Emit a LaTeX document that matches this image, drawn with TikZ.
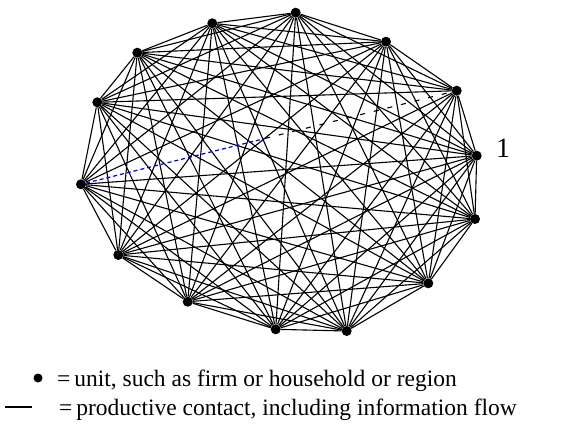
\documentclass[tikz,border=0pt]{standalone}
\usepackage{fontspec}
\setmainfont{Liberation Serif}
\usetikzlibrary{calc}
\tikzset{
  unit/.style={circle,fill=black,inner sep=0pt,minimum size=10pt},
  contact/.style={line width=1.1pt,black},
  flowblue/.style={line width=1.2pt,blue!85!black,dash pattern=on 4pt off 3pt},
  flowblack/.style={line width=1.1pt,black,dash pattern=on 5pt off 9pt},
  legendtext/.style={anchor=base west,inner sep=0pt,font=\fontsize{23.5}{28}\selectfont},
  numlabel/.style={inner sep=0pt,font=\fontsize{28}{32}\selectfont}
}
\begin{document}
\begin{tikzpicture}[x=1pt,y=-1pt]
\useasboundingbox (0,0) rectangle (576,437);
\foreach \i/\px/\py in {1/295.7/12.7, 2/386/41.7, 3/456.7/90.7, 4/476.7/155.7,
  5/475/219, 6/428.3/283.3, 7/346.7/331, 8/275.7/329.3, 9/187.7/301.7,
  10/118.3/255, 11/81/184.3, 12/97.3/102.3, 13/137.3/52.7, 14/212.3/23.3}
  {\node[unit] (n\i) at (\px,\py) {};}
\foreach \i in {1,...,13}{
  \pgfmathtruncatemacro{\jstart}{\i+1}
  \foreach \j in {\jstart,...,14}{
    \pgfmathtruncatemacro{\skip}{(\i==3)&&(\j==11)}
    \ifnum\skip=0
      \draw[contact] (n\i) -- (n\j);
    \fi
  }
}
\coordinate (mid) at ($(n11)!0.49!(n3)$);
\draw[flowblue] (n11) -- (mid);
\draw[flowblack] (mid) -- (n3);
\node[numlabel] (lab1) at (503,148) {1};
% legend
\node[unit,minimum size=9pt] (ldot) at (38,378) {};
\node[legendtext] (l1) at (57,386) {=\,unit, such as firm or household or region};
\coordinate (ls) at (5,407);
\coordinate (le) at (32,407);
\draw[line width=1.1pt] (ls) -- (le);
\node[legendtext] (l2) at (59,415) {=\,productive contact, including information flow};
\end{tikzpicture}
\end{document}
